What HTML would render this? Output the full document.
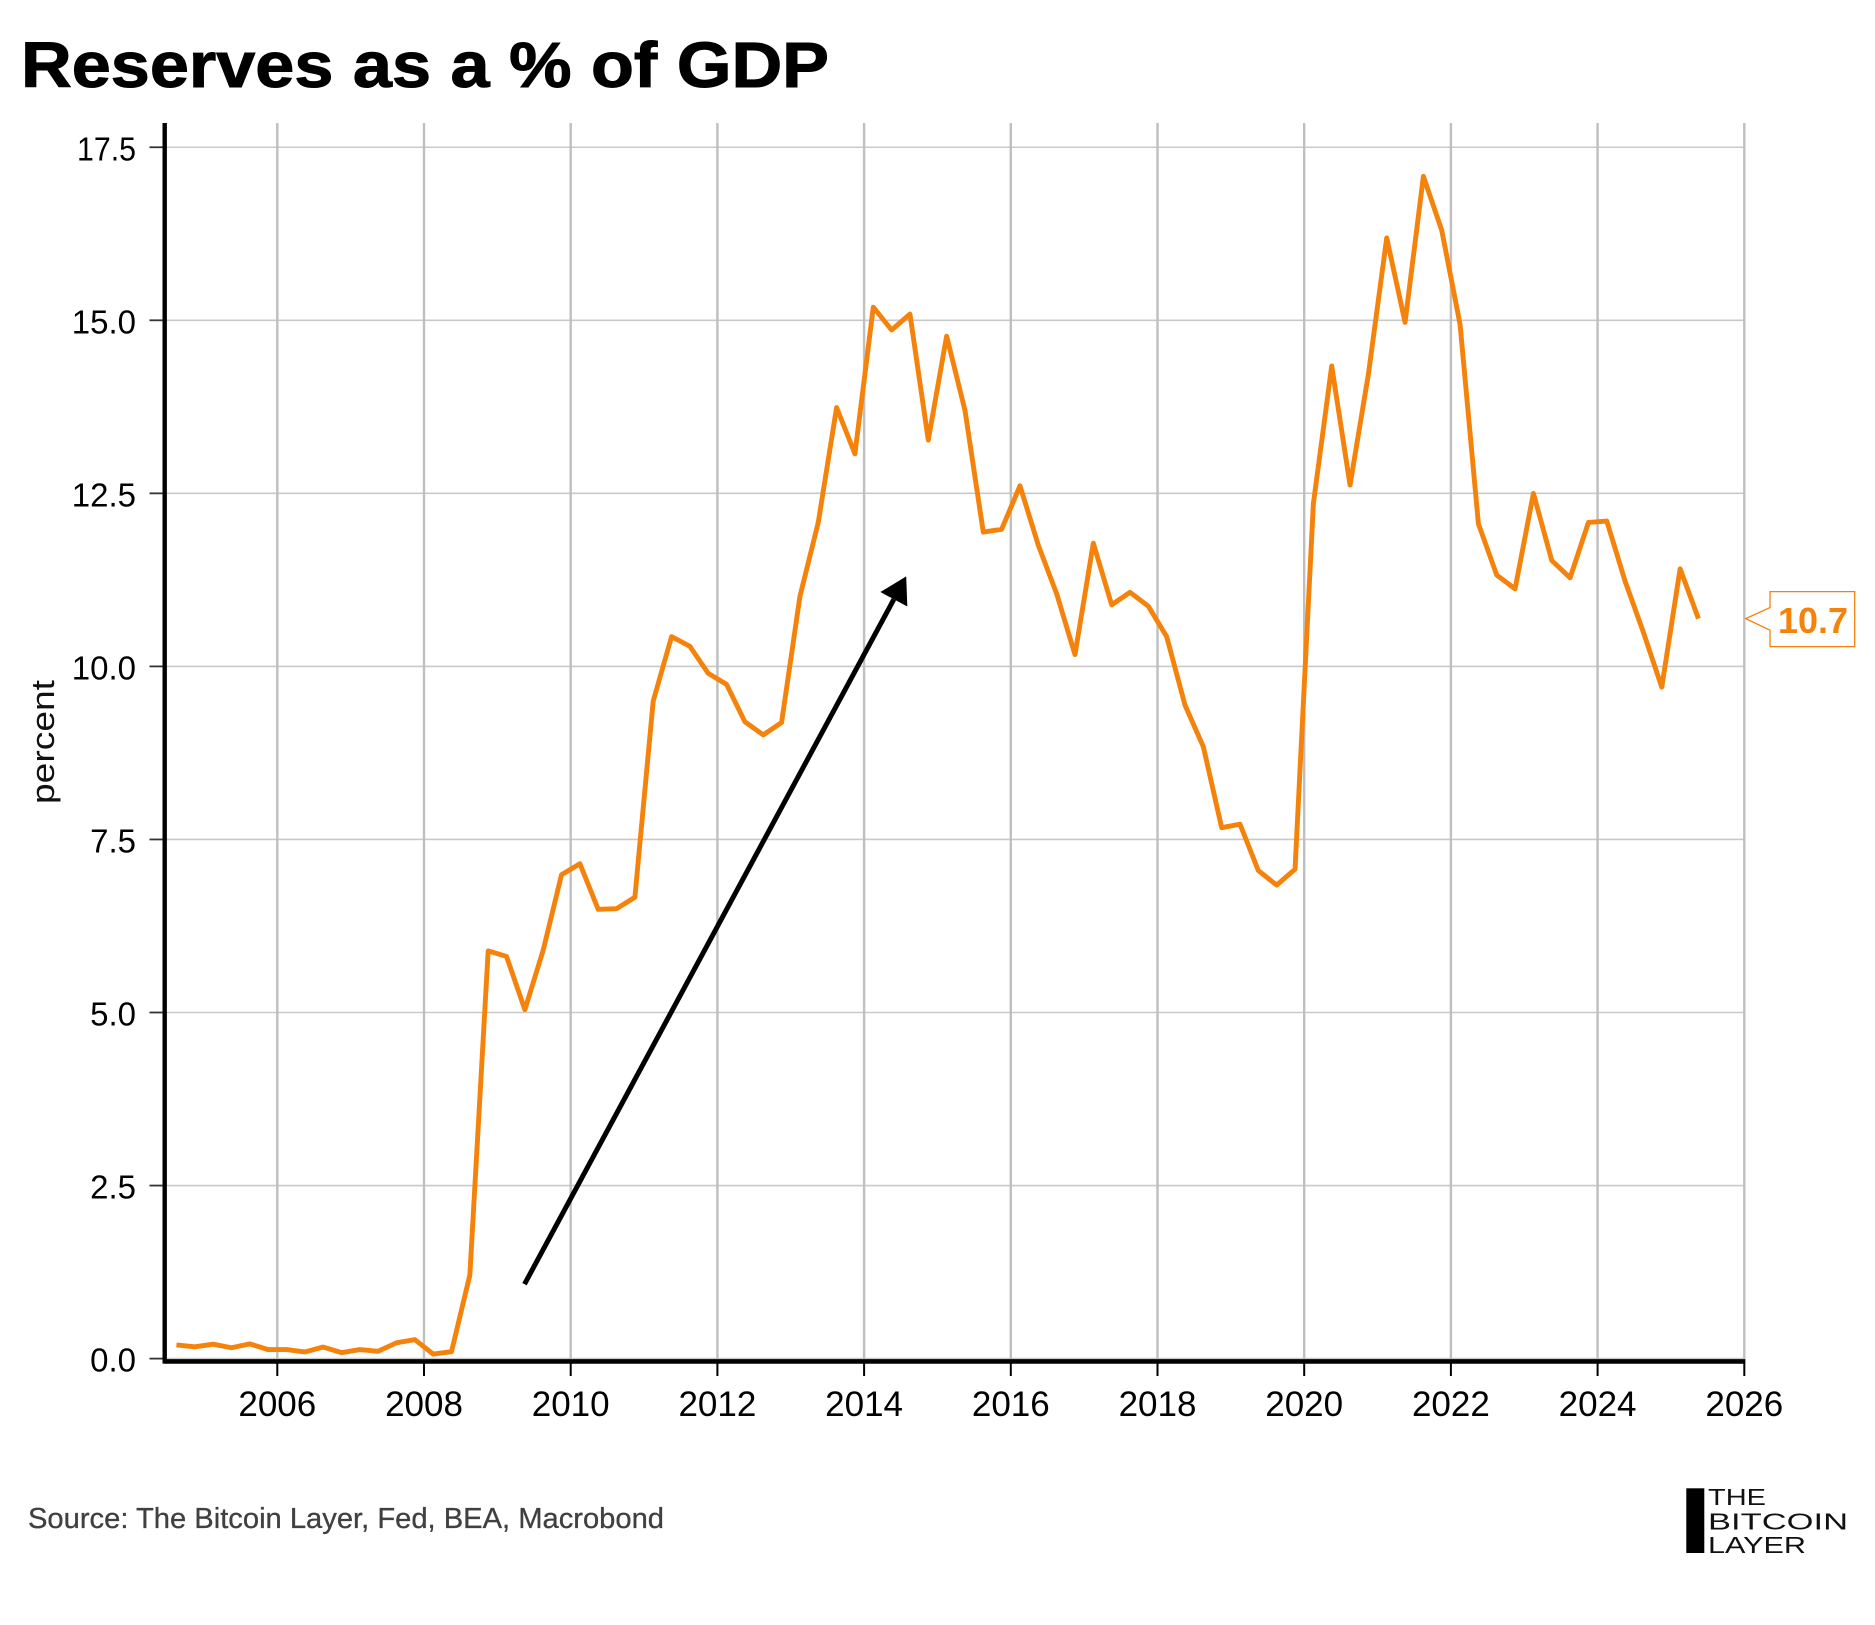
<!DOCTYPE html>
<html lang="en">
<head>
<meta charset="utf-8">
<title>Reserves as a % of GDP</title>
<style>
  html, body { margin: 0; padding: 0; background: #ffffff; }
  svg { display: block; font-family: "Liberation Sans", sans-serif; }
</style>
</head>
<body>
<svg id="chart" xmlns="http://www.w3.org/2000/svg" width="1875" height="1625" viewBox="0 0 1875 1625">
  <rect x="0" y="0" width="1875" height="1625" fill="#ffffff"/>
  <text x="21" y="87" font-size="64" font-weight="700" fill="#000" stroke="#000" stroke-width="1" textLength="808" lengthAdjust="spacingAndGlyphs">Reserves as a % of GDP</text>
  <g id="grid"></g>
  <g id="series"></g>
  <g id="axes"></g>
  <text transform="translate(54 742) rotate(-90)" text-anchor="middle" font-size="32" fill="#111" textLength="124" lengthAdjust="spacingAndGlyphs">percent</text>
  <g id="annotation"></g>
  <g id="callout"></g>
  <text x="28" y="1528" font-size="29" fill="#404040" stroke="#404040" stroke-width="0.3" textLength="636" lengthAdjust="spacingAndGlyphs">Source: The Bitcoin Layer, Fed, BEA, Macrobond</text>
  <g>
    <rect x="1686.3" y="1488.3" width="18" height="64.7" fill="#000"/>
    <text x="1708" y="1505" font-size="23" fill="#111" textLength="58" lengthAdjust="spacingAndGlyphs">THE</text>
    <text x="1708" y="1529.5" font-size="23" fill="#111" textLength="140" lengthAdjust="spacingAndGlyphs">BITCOIN</text>
    <text x="1708" y="1553" font-size="23" fill="#111" textLength="98" lengthAdjust="spacingAndGlyphs">LAYER</text>
  </g>
</svg>
<script>
const quarters = [
  "2004-Q3","2004-Q4",
  "2005-Q1","2005-Q2","2005-Q3","2005-Q4",
  "2006-Q1","2006-Q2","2006-Q3","2006-Q4",
  "2007-Q1","2007-Q2","2007-Q3","2007-Q4",
  "2008-Q1","2008-Q2","2008-Q3","2008-Q4",
  "2009-Q1","2009-Q2","2009-Q3","2009-Q4",
  "2010-Q1","2010-Q2","2010-Q3","2010-Q4",
  "2011-Q1","2011-Q2","2011-Q3","2011-Q4",
  "2012-Q1","2012-Q2","2012-Q3","2012-Q4",
  "2013-Q1","2013-Q2","2013-Q3","2013-Q4",
  "2014-Q1","2014-Q2","2014-Q3","2014-Q4",
  "2015-Q1","2015-Q2","2015-Q3","2015-Q4",
  "2016-Q1","2016-Q2","2016-Q3","2016-Q4",
  "2017-Q1","2017-Q2","2017-Q3","2017-Q4",
  "2018-Q1","2018-Q2","2018-Q3","2018-Q4",
  "2019-Q1","2019-Q2","2019-Q3","2019-Q4",
  "2020-Q1","2020-Q2","2020-Q3","2020-Q4",
  "2021-Q1","2021-Q2","2021-Q3","2021-Q4",
  "2022-Q1","2022-Q2","2022-Q3","2022-Q4",
  "2023-Q1","2023-Q2","2023-Q3","2023-Q4",
  "2024-Q1","2024-Q2","2024-Q3","2024-Q4",
  "2025-Q1","2025-Q2"
];
const reservesPctGdp = [
  0.198,0.17,
  0.208,0.157,0.213,0.13,
  0.13,0.096,0.167,0.086,
  0.13,0.106,0.228,0.274,
  0.066,0.10,1.206,5.89,
  5.81,5.04,5.90,6.99,
  7.15,6.49,6.50,6.665,
  9.50,10.43,10.29,9.90,
  9.74,9.20,9.01,9.19,
  11.01,12.08,13.74,13.07,
  15.19,14.86,15.09,13.27,
  14.77,13.70,11.94,11.98,
  12.61,11.75,11.05,10.17,
  11.78,10.89,11.07,10.87,
  10.43,9.44,8.84,7.67,
  7.72,7.05,6.84,7.07,
  12.35,14.34,12.62,14.22,
  16.19,14.97,17.08,16.30,
  14.94,12.06,11.32,11.12,
  12.50,11.53,11.28,12.08,
  12.10,11.23,10.49,9.70,
  11.41,10.69
];
const yearTicks = [2006,2008,2010,2012,2014,2016,2018,2020,2022,2024,2026];
const valueTicks = [0,2.5,5,7.5,10,12.5,15,17.5];
const trendArrowFrom = [2009.37, 1.075];
const trendArrowTo = [2014.574, 11.30];

const SVG_NS = "http://www.w3.org/2000/svg";
const ORANGE = "#f5820a";
const PLOT = { left: 164.7, right: 1744.3, top: 123, bottom: 1361.4 };

function xScale(year) { return 277.3 + (year - 2006) * 73.35; }
function yScale(value) { return 1358.6 - value * 69.22; }
function quarterToYear(label) {
  const parts = label.split("-Q");
  return Number(parts[0]) + (Number(parts[1]) - 1) / 4 + 0.125;
}
function make(tag, attrs, parent) {
  const el = document.createElementNS(SVG_NS, tag);
  Object.keys(attrs).forEach(function (k) { el.setAttribute(k, attrs[k]); });
  parent.appendChild(el);
  return el;
}

const gridLayer = document.getElementById("grid");
const axesLayer = document.getElementById("axes");
const seriesLayer = document.getElementById("series");
const annotationLayer = document.getElementById("annotation");
const calloutLayer = document.getElementById("callout");

valueTicks.forEach(function (v) {
  const y = yScale(v);
  const line = make("line", { x1: PLOT.left, x2: PLOT.right, y1: y, y2: y, stroke: "#c9c9c9", "stroke-width": 1.6 }, gridLayer);
  
  
  const tick = make("line", { x1: 149.5, x2: PLOT.left, y1: y, y2: y, stroke: "#333", "stroke-width": 1.8 }, axesLayer);
  
  
  const label = make("text", { x: 136, y: y + 13, "text-anchor": "end", "font-size": 33, fill: "#000" }, axesLayer);
  
  
  label.textContent = v.toFixed(1);
  if (v === 17.5) {
    label.setAttribute('textLength', '59');
    label.setAttribute('lengthAdjust', 'spacingAndGlyphs');
  }
});

yearTicks.forEach(function (yr) {
  const x = xScale(yr);
  const line = make("line", { x1: x, x2: x, y1: PLOT.top, y2: PLOT.bottom, stroke: "#bfbfbf", "stroke-width": 2.4 }, gridLayer);
  
  
  const tick = make("line", { x1: x, x2: x, y1: PLOT.bottom, y2: 1376, stroke: "#000", "stroke-width": 2 }, axesLayer);
  
  
  const label = make("text", { x: x, y: 1416, "text-anchor": "middle", "font-size": 35, fill: "#000" }, axesLayer);
  
  
  label.textContent = String(yr);
});

const yAxisLine = make("line", { x1: PLOT.left, x2: PLOT.left, y1: PLOT.top, y2: PLOT.bottom + 2.2, stroke: "#000", "stroke-width": 4.4 }, axesLayer);


const xAxisLine = make("line", { x1: PLOT.left, x2: PLOT.right + 1, y1: PLOT.bottom, y2: PLOT.bottom, stroke: "#000", "stroke-width": 4.6 }, axesLayer);



const seriesPoints = quarters.map(function (q, i) {
  return xScale(quarterToYear(q)).toFixed(2) + "," + yScale(reservesPctGdp[i]).toFixed(2);
}).join(" ");
const seriesLine = make("polyline", { points: seriesPoints, fill: "none", stroke: ORANGE, "stroke-width": 4.9, "stroke-linejoin": "round", "stroke-linecap": "butt" }, seriesLayer);



const ax0 = xScale(trendArrowFrom[0]);
const ay0 = yScale(trendArrowFrom[1]);
const ax1 = xScale(trendArrowTo[0]);
const ay1 = yScale(trendArrowTo[1]);
const aLen = Math.hypot(ax1 - ax0, ay1 - ay0);
const ux = (ax1 - ax0) / aLen;
const uy = (ay1 - ay0) / aLen;
const baseX = ax1 - ux * 26;
const baseY = ay1 - uy * 26;
const arrowStem = make("line", { x1: ax0, y1: ay0, x2: baseX, y2: baseY, stroke: "#000", "stroke-width": 5 }, annotationLayer);


const headPts = [
  [ax1, ay1],
  [baseX - uy * 15.3, baseY + ux * 15.3],
  [baseX + uy * 15.3, baseY - ux * 15.3]
].map(function (p) { return p[0].toFixed(2) + "," + p[1].toFixed(2); }).join(" ");
const arrowHead = make("polygon", { points: headPts, fill: "#000" }, annotationLayer);



const lastValue = reservesPctGdp[reservesPctGdp.length - 1];
const tipY = yScale(lastValue);
const calloutPath = "M1745.7 " + tipY.toFixed(2) +
  " L1770 " + (tipY - 11).toFixed(2) +
  " L1770 " + (tipY - 27).toFixed(2) +
  " L1854.7 " + (tipY - 27).toFixed(2) +
  " L1854.7 " + (tipY + 28).toFixed(2) +
  " L1770 " + (tipY + 28).toFixed(2) +
  " L1770 " + (tipY + 11.5).toFixed(2) + " Z";
const calloutBox = make("path", { d: calloutPath, fill: "#fff", stroke: ORANGE, "stroke-width": 1.3 }, calloutLayer);


const calloutText = make("text", { x: 1778, y: tipY + 14.3, "font-size": 36, "font-weight": 700, fill: ORANGE }, calloutLayer);


calloutText.textContent = lastValue.toFixed(1);
</script>
</body>
</html>
